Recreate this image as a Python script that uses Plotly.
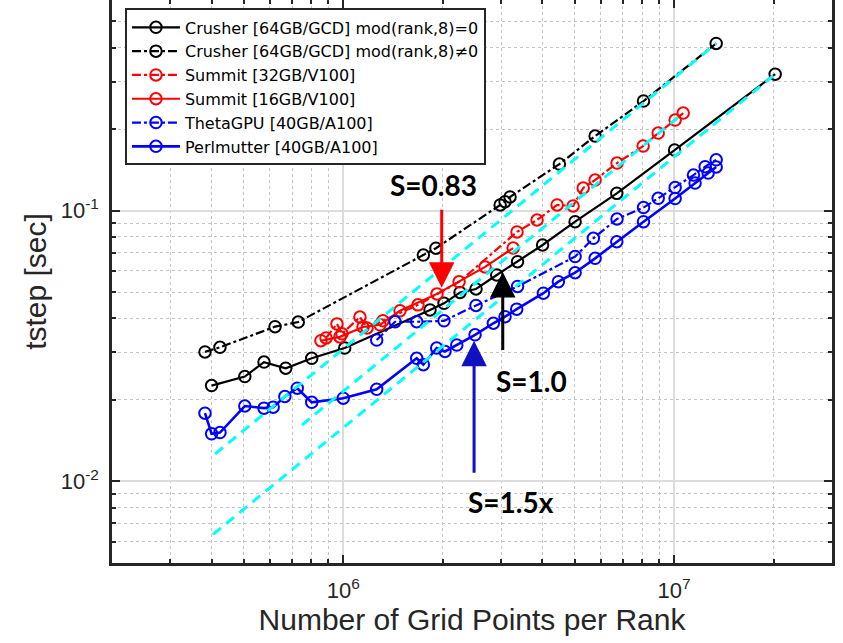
import numpy as np
import plotly.graph_objects as go

# ---------------- data ----------------
crusher0_x = [4.00e5, 5.04e5, 5.76e5, 6.70e5, 8.03e5, 1.01e6, 1.829e6, 2.016e6, 2.254e6,
              2.519e6, 2.910e6, 3.363e6, 4.003e6, 5.02e6, 6.71e6, 1.003e7, 2.02e7]
crusher0_y = [0.0226, 0.0244, 0.0276, 0.0262, 0.0285, 0.0311, 0.0430, 0.0455, 0.0499,
              0.0514, 0.0579, 0.0648, 0.0747, 0.0911, 0.1159, 0.1675, 0.3193]

crusher1_x = [3.82e5, 4.24e5, 6.22e5, 7.31e5, 1.746e6, 1.906e6, 2.98e6, 3.083e6, 3.192e6,
              4.50e6, 5.77e6, 8.08e6, 1.34e7]
crusher1_y = [0.0301, 0.0313, 0.0373, 0.0388, 0.0686, 0.0727, 0.105, 0.108, 0.1124,
              0.1487, 0.1886, 0.254, 0.4147]

summit32_x = [8.87e5, 9.57e5, 9.91e5, 1.123e6, 1.18e6, 1.318e6, 1.682e6, 2.239e6, 3.351e6,
              3.852e6, 4.43e6, 4.95e6, 5.31e6, 5.77e6, 6.72e6, 8.06e6, 8.95e6, 1.007e7, 1.065e7]
summit32_y = [0.0339, 0.0382, 0.0351, 0.0405, 0.0369, 0.0392, 0.0449, 0.0546, 0.0835,
              0.0924, 0.1050, 0.1041, 0.1213, 0.1298, 0.150, 0.1733, 0.1935, 0.2161, 0.2294]

summit16_x = [8.56e5, 9.77e5, 1.147e6, 1.291e6, 1.484e6, 1.920e6, 2.683e6, 3.262e6]
summit16_y = [0.0331, 0.0342, 0.0372, 0.0379, 0.0427, 0.0493, 0.0620, 0.0728]

theta_x = [1.262e6, 1.434e6, 1.667e6, 2.016e6, 2.519e6, 3.363e6, 5.02e6, 5.70e6, 6.72e6,
           8.08e6, 8.95e6, 1.007e7, 1.144e7, 1.241e7, 1.34e7]
theta_y = [0.0333, 0.0389, 0.0389, 0.0392, 0.0447, 0.0525, 0.0677, 0.0791, 0.0932,
           0.1027, 0.1111, 0.1218, 0.1354, 0.1454, 0.1542]

perl_x = [3.82e5, 4.00e5, 4.24e5, 5.04e5, 5.76e5, 6.14e5, 6.66e5, 7.26e5, 8.03e5, 1.0e6,
          1.262e6, 1.667e6, 1.746e6, 1.916e6, 2.030e6, 2.203e6, 2.502e6, 2.842e6, 3.083e6,
          3.344e6, 4.025e6, 4.468e6, 5.02e6, 5.77e6, 6.71e6, 8.08e6, 1.007e7, 1.157e7,
          1.267e7, 1.34e7]
perl_y = [0.01788, 0.0150, 0.01516, 0.0190, 0.01866, 0.01882, 0.0206, 0.0221, 0.0196, 0.0203,
          0.0219, 0.0285, 0.0270, 0.0311, 0.0302, 0.0319, 0.0348, 0.0384, 0.0406,
          0.0433, 0.0496, 0.0547, 0.0590, 0.0667, 0.0768, 0.0911, 0.1109, 0.1265,
          0.1377, 0.1450]

# ideal-scaling reference lines (end points)
ideal1_x = [4.10e5, 1.34e7]
ideal1_y = [0.01265, 0.4147]
ideal2_x = [7.5e5, 1.065e7]
ideal2_y = [0.01616, 0.2294]
ideal3_x = [4.04e5, 2.02e7]
ideal3_y = [0.00638, 0.3193]

x_tick_vals = [1e6, 1e7]
x_tick_text = ["10<sup>6</sup>", "10<sup>7</sup>"]
y_tick_vals = [1e-2, 1e-1]
y_tick_text = ["10<sup>-2</sup>", "10<sup>-1</sup>"]

# annotation arrows: (tip x, tip y, tail pixel offset, color) and labels
arrow_tips = [(1.984e6, 0.0519, -88, "#ff0000"),
              (3.034e6, 0.0594, 88, "#000000"),
              (2.485e6, 0.0331, 142, "#1010c0")]
labels = [("S=0.83", 1.880e6, 0.1244),
          ("S=1.0", 3.708e6, 0.02352),
          ("S=1.5x", 3.215e6, 0.00842)]

# ---------------- figure ----------------
FONT = "Liberation Sans, Arial, Helvetica, sans-serif"
AX = "#262626"

fig = go.Figure()

def add_series(x, y, name, color, dash, width=2.2):
    fig.add_trace(go.Scatter(
        x=x, y=y, name=name, mode="lines+markers",
        line=dict(color=color, width=width, dash=dash),
        marker=dict(symbol="circle-open", size=11.5, color=color, line=dict(width=2, color=color)),
    ))

add_series(crusher0_x, crusher0_y, "Crusher [64GB/GCD] mod(rank,8)=0", "#000000", "solid")
add_series(crusher1_x, crusher1_y, "Crusher [64GB/GCD] mod(rank,8)\u22600", "#000000", "dashdot")
add_series(summit32_x, summit32_y, "Summit [32GB/V100]", "#ff0000", "dashdot")
add_series(summit16_x, summit16_y, "Summit [16GB/V100]", "#ff0000", "solid")
add_series(theta_x, theta_y, "ThetaGPU [40GB/A100]", "#0000ff", "dashdot")
add_series(perl_x, perl_y, "Perlmutter [40GB/A100]", "#0000ff", "solid", 2.6)

for ix, iy in [(ideal1_x, ideal1_y), (ideal2_x, ideal2_y), (ideal3_x, ideal3_y)]:
    fig.add_trace(go.Scatter(x=ix, y=iy, mode="lines", showlegend=False, hoverinfo="skip",
                             line=dict(color="#00ffff", width=3, dash="10px,7px")))

annotations = []
for tx, ty, off, col in arrow_tips:
    annotations.append(dict(x=np.log10(tx), y=np.log10(ty), xref="x", yref="y",
                            ax=0, ay=off, text=" ", showarrow=True, arrowhead=2,
                            arrowsize=1.7, arrowwidth=3, arrowcolor=col, standoff=0))
for txt, lx, ly in labels:
    annotations.append(dict(x=np.log10(lx), y=np.log10(ly), xref="x", yref="y",
                            text="<b>" + txt + "</b>", showarrow=False,
                            font=dict(family="Lato, Open Sans, sans-serif", size=28, color="#000000")))

x_minor = [m * 10.0 ** e for e in range(5, 8) for m in range(2, 10) if 2e5 < m * 10.0 ** e < 3e7]
y_minor = [m * 10.0 ** e for e in range(-3, 0) for m in range(2, 10) if 5e-3 < m * 10.0 ** e < 0.6]

common = dict(
    type="log", ticks="inside", ticklen=8, tickwidth=1.5, tickcolor=AX,
    showline=True, linecolor=AX, linewidth=2.5, mirror="ticks",
    showgrid=True, gridcolor="#dcdcdc", gridwidth=1.5, zeroline=False,
    tickfont=dict(family=FONT, size=22, color=AX), automargin=False,
)

fig.update_layout(
    width=843, height=643,
    margin=dict(l=112, r=11, t=0, b=80, pad=0),
    paper_bgcolor="white", plot_bgcolor="white",
    showlegend=True,
    legend=dict(x=0.018, y=0.985, xanchor="left", yanchor="top",
                bgcolor="white", bordercolor=AX, borderwidth=2,
                font=dict(family="DejaVu Sans, sans-serif", size=16, color="#000000"),
                tracegroupgap=0, itemwidth=48),
    annotations=annotations,
    xaxis=dict(**common, range=[np.log10(2e5), np.log10(3e7)],
               tickmode="array", tickvals=x_tick_vals, ticktext=x_tick_text,
               ticklabelstandoff=6,
               minor=dict(tickmode="array", tickvals=x_minor, ticks="inside", ticklen=4,
                          tickcolor=AX, showgrid=True, gridcolor="#c4c4c4", griddash="dot", gridwidth=1),
               title=dict(text="Number of Grid Points per Rank", standoff=6,
                          font=dict(family=FONT, size=30, color=AX))),
    yaxis=dict(**common, range=[np.log10(5e-3), np.log10(0.6)],
               tickmode="array", tickvals=y_tick_vals, ticktext=y_tick_text,
               ticklabelstandoff=6,
               minor=dict(tickmode="array", tickvals=y_minor, ticks="inside", ticklen=4,
                          tickcolor=AX, showgrid=True, gridcolor="#c4c4c4", griddash="dot", gridwidth=1),
               title=dict(text="tstep [sec]", standoff=6,
                          font=dict(family=FONT, size=30, color=AX))),
)

fig.write_html("out.html", config={"displayModeBar": False},
               post_script="document.body.style.margin='0';document.body.style.overflow='hidden';")
